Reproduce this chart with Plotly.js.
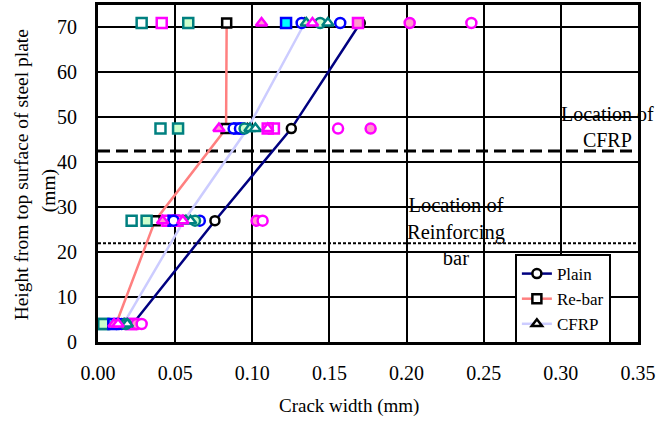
<!DOCTYPE html>
<html><head><meta charset="utf-8">
<script src="https://cdn.plot.ly/plotly-3.0.1.min.js"></script>
</head><body style="margin:0"><div id="chart"></div>
<script>
// Heights (mm) of measurement rows
const heights = [4, 27, 47.5, 71];
// Average crack widths (mm)
const plainAvg = [0.0225, 0.0758, 0.1253, 0.170];
const rebarAvg = [0.0117, 0.0370, 0.0830, 0.0834];
const cfrpAvg  = [0.0164, 0.0557, 0.0970, 0.1340];
// Individual specimens - Plain (circles)
const plain1 = [0.0153, 0.0490, 0.0879, 0.132];
const plain2 = [0.0120, 0.0660, 0.0920, 0.157];
const plain3 = [0.0250, 0.1028, 0.1767, 0.202];
const plain4 = [0.0283, 0.1067, 0.1556, 0.242];
const plain5 = [0.0180, 0.0629, 0.0950, 0.144];
// Individual specimens - Re-bar (squares)
const rebar1 = [0.0040, 0.0218, 0.0405, 0.0283];
const rebar2 = [0.0034, 0.0315, 0.0519, 0.0585];
const rebar3 = [0.0210, 0.0450, 0.1140, 0.0413];
const rebar4 = [0.0100, 0.0490, 0.0914, 0.1219];
const rebar5 = [0.0222, 0.0516, 0.1100, 0.1685];
// Individual specimens - CFRP (triangles)
const cfrp1 = [0.0104, 0.0419, 0.0784, 0.106];
const cfrp2 = [0.0170, 0.0570, 0.0985, 0.135];
const cfrp3 = [0.0190, 0.0600, 0.1020, 0.149];
const cfrp4 = [0.0130, 0.0550, 0.1100, 0.139];

const legendNames = ['Plain', 'Re-bar', 'CFRP'];
const xTicks = [0, 0.05, 0.10, 0.15, 0.20, 0.25, 0.30, 0.35];
const xTickText = ['0.00','0.05','0.10','0.15','0.20','0.25','0.30','0.35'];
const yTicks = [0,10,20,30,40,50,60,70];
const cfrpLoc = 42.5, barLoc = 22;

const FAM = 'Liberation Serif';

function ind(x, sym, lc, fc) {
  return {x: x, y: heights, type: 'scatter', mode: 'markers', showlegend: false, hoverinfo: 'skip',
    marker: {symbol: sym, size: 10, color: fc, line: {color: lc, width: 2.5}}};
}
function avg(x, name, lc, sym) {
  return {x: x, y: heights, type: 'scatter', mode: 'lines+markers', name: name,
    line: {color: lc, width: 2.5},
    marker: {symbol: sym, size: 9, color: '#fff', line: {color: '#000', width: 2.5}}};
}

const traces = [
  {x: [0, 0.35], y: [cfrpLoc, cfrpLoc], type: 'scatter', mode: 'lines', showlegend: false, hoverinfo: 'skip',
   line: {color: '#000', width: 3, dash: '12px,6px'}},
  {x: [0, 0.35], y: [barLoc, barLoc], type: 'scatter', mode: 'lines', showlegend: false, hoverinfo: 'skip',
   line: {color: '#000', width: 2, dash: '3px,2px'}},
  avg(plainAvg, legendNames[0], '#000080', 'circle'),
  avg(rebarAvg, legendNames[1], '#FF8080', 'square'),
  avg(cfrpAvg, legendNames[2], '#CCCCFF', 'triangle-up'),
  ind(rebar1, 'square', '#008080', '#ffffff'),
  ind(rebar2, 'square', '#008080', '#CCFFCC'),
  ind(rebar3, 'square', '#FF00FF', '#ffffff'),
  ind(rebar4, 'square', '#0000FF', '#00FFFF'),
  ind(rebar5, 'square', '#FF00FF', '#FF99CC'),
  ind(plain1, 'circle', '#0000FF', '#ffffff'),
  ind(plain2, 'circle', '#0000FF', '#ffffff'),
  ind(plain3, 'circle', '#FF00FF', '#FF99CC'),
  ind(plain4, 'circle', '#FF00FF', '#ffffff'),
  ind(plain5, 'circle', '#008080', '#CCFFCC'),
  ind(cfrp1, 'triangle-up', '#FF00FF', '#FF99CC'),
  ind(cfrp2, 'triangle-up', '#008080', '#CCFFCC'),
  ind(cfrp3, 'triangle-up', '#008080', '#ffffff'),
  ind(cfrp4, 'triangle-up', '#FF00FF', '#ffffff')
];

const layout = {
  width: 656, height: 423,
  margin: {l: 98, r: 18, t: 5, b: 81},
  paper_bgcolor: '#fff', plot_bgcolor: '#fff',
  font: {family: FAM, size: 19, color: '#000'},
  showlegend: true,
  xaxis: {range: [0, 0.35], tickvals: xTicks, ticktext: xTickText, showgrid: true,
    gridcolor: '#000', gridwidth: 2, zeroline: false, showline: true, linecolor: '#000', linewidth: 3,
    mirror: true, ticks: '', ticklabelstandoff: 11, tickfont: {family: FAM, size: 20, color: '#000'}},
  yaxis: {range: [0, 75], tickvals: yTicks, showgrid: true, gridcolor: '#000', gridwidth: 2,
    zeroline: false, showline: true, linecolor: '#000', linewidth: 3, mirror: true, ticks: '',
    ticklabelstandoff: 14, tickfont: {family: FAM, size: 20, color: '#000'}},
  legend: {x: 0.772, y: 0.261, xanchor: 'left', yanchor: 'top', bgcolor: '#fff', bordercolor: '#000',
    borderwidth: 2, font: {family: FAM, size: 17, color: '#000'}, tracegroupgap: 0},
  annotations: [
    {text: 'Crack width (mm)', xref: 'paper', yref: 'paper', x: 0.465, y: -0.19, yanchor: 'middle',
     showarrow: false, font: {family: FAM, size: 19, color: '#000'}},
    {text: 'Height from top surface of steel plate', xref: 'paper', yref: 'paper', x: -0.141, y: 0.497,
     xanchor: 'center', yanchor: 'middle', textangle: -90, showarrow: false, font: {family: FAM, size: 19.5, color: '#000'}},
    {text: '(mm)', xref: 'paper', yref: 'paper', x: -0.091, y: 0.45,
     xanchor: 'center', yanchor: 'middle', textangle: -90, showarrow: false, font: {family: FAM, size: 19.5, color: '#000'}},
    {text: 'Location of<br>CFRP', xref: 'x', yref: 'y', x: 0.33, y: 47.9, xanchor: 'center', yanchor: 'middle',
     showarrow: false, align: 'center', font: {family: FAM, size: 20, color: '#000'}},
    {text: 'Location of<br>Reinforcing<br>bar', xref: 'x', yref: 'y', x: 0.232, y: 24.6, xanchor: 'center', yanchor: 'middle',
     showarrow: false, align: 'center', font: {family: FAM, size: 20.5, color: '#000'}}
  ]
};

Plotly.newPlot('chart', traces, layout, {displayModeBar: false});
</script>
</body></html>
